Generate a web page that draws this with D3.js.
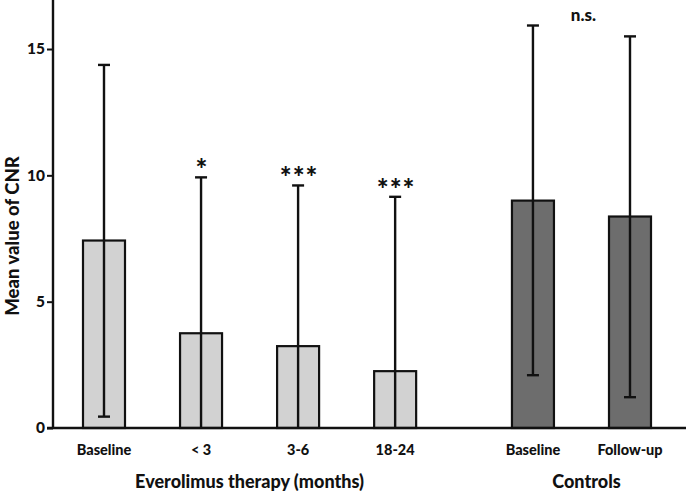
<!DOCTYPE html>
<html>
<head>
<meta charset="utf-8">
<script src="https://cdn.jsdelivr.net/npm/d3@7"></script>
<style>
  html, body { margin: 0; padding: 0; background: #fff; }
  svg { display: block; }
  text { font-family: Lato, "Open Sans", sans-serif; font-weight: 900; fill: #111; }
</style>
</head>
<body>
<svg id="chart" width="687" height="493"></svg>
<script>
// ---- data ----
const categories = ["Baseline", "< 3", "3-6", "18-24", "Baseline", "Follow-up"];
const groups = [0, 0, 0, 0, 1, 1];
const groupLabels = ["Everolimus therapy (months)", "Controls"];
const means = [7.42, 3.75, 3.24, 2.25, 9.0, 8.37];
const errUpper = [14.37, 9.92, 9.6, 9.15, 15.93, 15.5];
const errLower = [0.45, 0, 0, 0, 2.09, 1.22];
const markers = ["", "*", "***", "***", "", ""];
const yTicks = [0, 5, 10, 15];
const groupNote = "n.s.";

// ---- layout ----
const svg = d3.select("#chart");
const axisX = 53, baseY = 428, topY = 1;
const groupGap = 0.42;
const barW = 42;
const fills = ["#d2d2d2", "#6d6d6d"];

const y = d3.scaleLinear().domain([0, 16.9]).range([baseY, topY]);
const pos = categories.map((c, i) => i + (groups[i] ? groupGap : 0));
const x = d3.scaleLinear().domain([0, 5 + groupGap]).range([104, 630]);

// bars
svg.selectAll("rect.bar").data(means).enter().append("rect")
  .attr("class", "bar")
  .attr("x", (d, i) => x(pos[i]) - barW / 2)
  .attr("y", d => y(d))
  .attr("width", barW)
  .attr("height", d => y(0) - y(d))
  .attr("fill", (d, i) => fills[groups[i]])
  .attr("stroke", "#111")
  .attr("stroke-width", 2.2);

// error bars
const eg = svg.append("g").attr("stroke", "#111").attr("stroke-width", 2.4);
categories.forEach((c, i) => {
  const cx = x(pos[i]);
  eg.append("line").attr("x1", cx).attr("x2", cx).attr("y1", y(errUpper[i])).attr("y2", y(errLower[i]));
  eg.append("line").attr("x1", cx - 6).attr("x2", cx + 6).attr("y1", y(errUpper[i])).attr("y2", y(errUpper[i]));
  if (errLower[i] > 0) {
    eg.append("line").attr("x1", cx - 6).attr("x2", cx + 6).attr("y1", y(errLower[i])).attr("y2", y(errLower[i]));
  }
});

// significance markers
svg.selectAll("text.mark").data(markers).enter().append("text")
  .attr("class", "mark")
  .attr("x", (d, i) => x(pos[i]) + 1)
  .attr("y", (d, i) => y(errUpper[i]) + 2)
  .attr("text-anchor", "middle")
  .style("font-size", "28px")
  .style("letter-spacing", "1px")
  .text(d => d);

svg.append("text")
  .attr("x", (x(pos[4]) + x(pos[5])) / 2 + 2)
  .attr("y", 21)
  .attr("text-anchor", "middle")
  .style("font-size", "17px")
  .text(groupNote);

// y axis
const yAxis = d3.axisLeft(y).tickValues(yTicks).tickSize(6).tickPadding(2).tickFormat(d3.format("d"));
const ya = svg.append("g").attr("transform", `translate(${axisX},0)`).call(yAxis);
ya.select(".domain").attr("stroke", "#111").attr("stroke-width", 2.4).attr("d", `M0,${topY - 1}V${baseY}`);
ya.selectAll(".tick line").attr("stroke", "#111").attr("stroke-width", 2);
ya.selectAll(".tick text").style("font-size", "15.5px").style("font-family", "Lato, sans-serif").style("font-weight", "900").attr("fill", "#111");

// x axis baseline
svg.append("line").attr("x1", axisX - 6).attr("x2", 686).attr("y1", baseY).attr("y2", baseY)
  .attr("stroke", "#111").attr("stroke-width", 2.4);

// category labels
svg.selectAll("text.cat").data(categories).enter().append("text")
  .attr("class", "cat")
  .attr("x", (d, i) => x(pos[i]))
  .attr("y", 455)
  .attr("text-anchor", "middle")
  .style("font-size", "14.5px")
  .text(d => d);

// group labels
const groupCenters = groupLabels.map((g, gi) => {
  const idx = pos.filter((p, i) => groups[i] === gi);
  return (x(d3.min(idx)) + x(d3.max(idx))) / 2;
});
svg.selectAll("text.grp").data(groupLabels).enter().append("text")
  .attr("class", "grp")
  .attr("x", (d, i) => groupCenters[i] + (i === 1 ? 5 : 0))
  .attr("y", 488)
  .attr("text-anchor", "middle")
  .style("font-size", "18px")
  .text(d => d);

// y title
svg.append("text")
  .attr("transform", `translate(19,${236}) rotate(-90)`)
  .attr("text-anchor", "middle")
  .style("font-size", "18.5px")
  .text("Mean value of CNR");
</script>
</body>
</html>
